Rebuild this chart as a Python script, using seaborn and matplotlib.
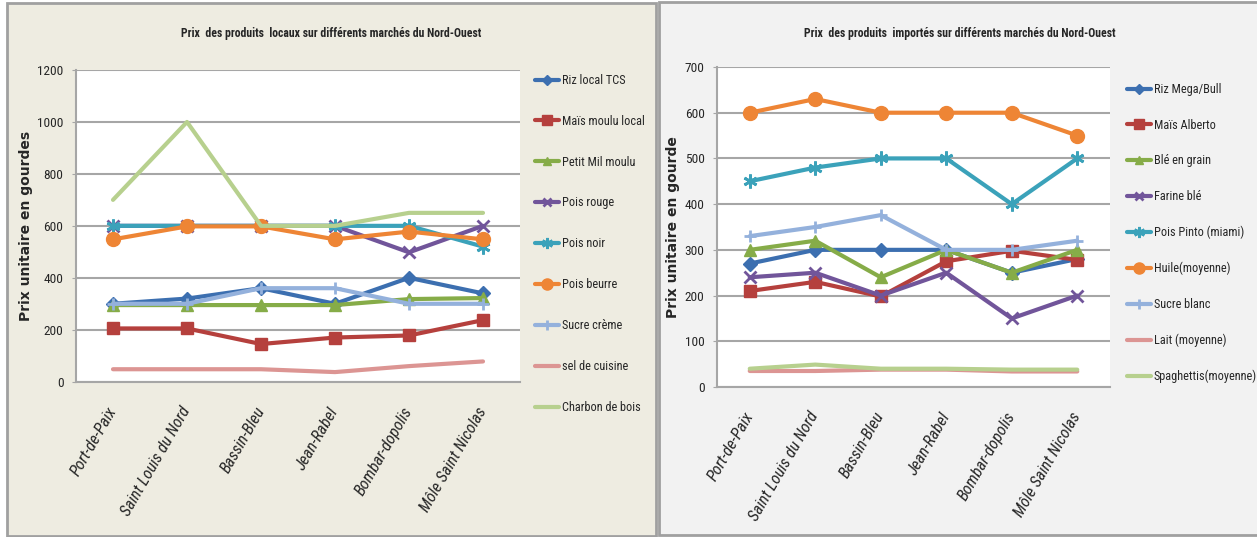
"""Prix des produits locaux et importés sur les marchés du Nord-Ouest."""

import numpy as np
import pandas as pd
import matplotlib
matplotlib.use("Agg")
import matplotlib.pyplot as plt
from matplotlib.patches import Rectangle
import seaborn as sns

sns.set_style("white")
plt.rcParams['font.family'] = ['Roboto Condensed', 'Liberation Sans Narrow', 'Liberation Sans', 'DejaVu Sans']

# Marchés
marches = ["Port-de-Paix", "Saint Louis du Nord", "Bassin-Bleu",
           "Jean-Rabel", "Bombar-dopolis", "Môle Saint Nicolas"]

# Produits locaux
riz_local_tcs = [300, 320, 360, 300, 400, 340]
mais_moulu_local = [205, 205, 145, 170, 178, 237]
petit_mil_moulu = [295, 295, 295, 295, 318, 322]
pois_rouge = [600, 600, 600, 600, 498, 600]
pois_noir = [600, 600, 600, 600, 600, 520]
pois_beurre = [548, 598, 598, 548, 578, 548]
sucre_creme = [300, 300, 360, 360, 300, 300]
sel_de_cuisine = [48, 48, 48, 37, 60, 78]
charbon_de_bois = [700, 1000, 600, 600, 650, 650]

# Produits importés
riz_mega_bull = [270, 300, 300, 300, 250, 280]
mais_alberto = [210, 230, 198, 275, 298, 278]
ble_en_grain = [300, 320, 240, 300, 250, 300]
farine_ble = [240, 250, 200, 250, 150, 200]
pois_pinto = [450, 480, 500, 500, 400, 500]
huile = [600, 630, 600, 600, 600, 550]
sucre_blanc = [330, 350, 376, 300, 300, 320]
lait = [35, 35, 38, 38, 34, 34]
spaghettis = [40, 49, 40, 40, 38, 38]

locaux = {
    "Riz local TCS": riz_local_tcs,
    "Maïs moulu local": mais_moulu_local,
    "Petit Mil moulu": petit_mil_moulu,
    "Pois rouge": pois_rouge,
    "Pois noir": pois_noir,
    "Pois beurre": pois_beurre,
    "Sucre crème": sucre_creme,
    "sel de cuisine": sel_de_cuisine,
    "Charbon de bois": charbon_de_bois,
}
importes = {
    "Riz Mega/Bull": riz_mega_bull,
    "Maïs Alberto": mais_alberto,
    "Blé en grain": ble_en_grain,
    "Farine blé": farine_ble,
    "Pois Pinto (miami)": pois_pinto,
    "Huile(moyenne)": huile,
    "Sucre blanc": sucre_blanc,
    "Lait (moyenne)": lait,
    "Spaghettis(moyenne)": spaghettis,
}

# Couleurs et marqueurs (style Excel)
couleurs = ['#3C6FB0', '#B5403D', '#86AC48', '#71559A', '#3BA2BA',
            '#EE8535', '#94B1DC', '#DC9593', '#B7D08E']
asterisque = (6, 2, 0)
marqueurs = ['D', 's', '^', 'x', asterisque, 'o', '+', '', '']
tailles = [7, 9, 8, 8, 10, 10, 9, 0, 0]

TAILLE_TXT = 8.8


def tracer(ax, series, titre_y, ymax, pas):
    pos = np.arange(len(marches))
    for i, (nom, valeurs) in enumerate(series.items()):
        df = pd.DataFrame({'x': pos, 'y': valeurs})
        sns.lineplot(data=df, x='x', y='y', ax=ax, color=couleurs[i],
                     linewidth=3, marker=marqueurs[i] if marqueurs[i] else None,
                     markersize=tailles[i], markeredgewidth=2 if i in (3, 4, 6) else 1,
                     markeredgecolor=couleurs[i], label=nom)
    ax.set_xlim(-0.5, len(marches) - 0.5)
    ax.set_ylim(0, ymax)
    ax.set_yticks(np.arange(0, ymax + 1, pas))
    ax.yaxis.grid(True, color='#A6A6A6', linewidth=1.5)
    ax.set_axisbelow(True)
    ax.set_xticks(pos)
    ax.set_xticklabels(marches, rotation=60, ha='right', va='center',
                       rotation_mode='anchor', fontstyle='italic', fontsize=11.8)
    ax.tick_params(axis='x', length=0, pad=19)
    ax.tick_params(axis='y', length=3, color='#A6A6A6', labelsize=TAILLE_TXT + 0.8,
                   pad=6, left=True)
    ax.set_xlabel('')
    ax.set_ylabel(titre_y, fontsize=10, fontweight='bold', family='DejaVu Sans', labelpad=3)
    for s in ['top', 'right']:
        ax.spines[s].set_visible(False)
    for s in ['left', 'bottom']:
        ax.spines[s].set_color('#A6A6A6')
        ax.spines[s].set_linewidth(1.5)
    ax.set_facecolor('white')


fig = plt.figure(figsize=(12.57, 5.37), dpi=100)
fig.patch.set_facecolor('white')
W, H = 1257, 537

# Fonds des deux panneaux
fig.patches.append(Rectangle((7 / W, 1 / H), 649 / W, 533 / H, transform=fig.transFigure,
                             facecolor='#EEECE1', edgecolor='#A0A0A0', linewidth=2, zorder=-5))
fig.patches.append(Rectangle((659 / W, 2 / H), 600 / W, 533 / H, transform=fig.transFigure,
                             facecolor='#F2F2F2', edgecolor='#A0A0A0', linewidth=2, zorder=-5))

ax1 = fig.add_axes([76 / W, 155.3 / H, 444 / W, 311.7 / H])
ax2 = fig.add_axes([717 / W, 150 / H, 393 / W, 320 / H])

tracer(ax1, locaux, 'Prix unitaire en gourdes', 1200, 200)
tracer(ax2, importes, 'Prix unitaire en gourde', 700, 100)

ax1.get_legend().remove()
ax2.get_legend().remove()

h1, l1 = ax1.get_legend_handles_labels()
fig.legend(h1, l1, loc='upper left', bbox_to_anchor=(530 / W, 1 - 69 / H), frameon=False,
           fontsize=TAILLE_TXT, labelspacing=2.28, handlelength=2.0, handletextpad=0.2,
           borderaxespad=0, markerscale=0.8)
h2, l2 = ax2.get_legend_handles_labels()
fig.legend(h2, l2, loc='upper left', bbox_to_anchor=(1122 / W, 1 - 78 / H), frameon=False,
           fontsize=TAILLE_TXT, labelspacing=1.86, handlelength=2.0, handletextpad=0.2,
           borderaxespad=0, markerscale=0.8)

fig.text(331 / W, 1 - 33 / H, 'Prix  des produits  locaux sur différents marchés du Nord-Ouest',
         ha='center', va='center', fontsize=8.5, fontweight='bold')
fig.text(960 / W, 1 - 33 / H, 'Prix  des produits  importés sur différents marchés du Nord-Ouest',
         ha='center', va='center', fontsize=8.5, fontweight='bold')

fig.savefig('out.png', dpi=100)
